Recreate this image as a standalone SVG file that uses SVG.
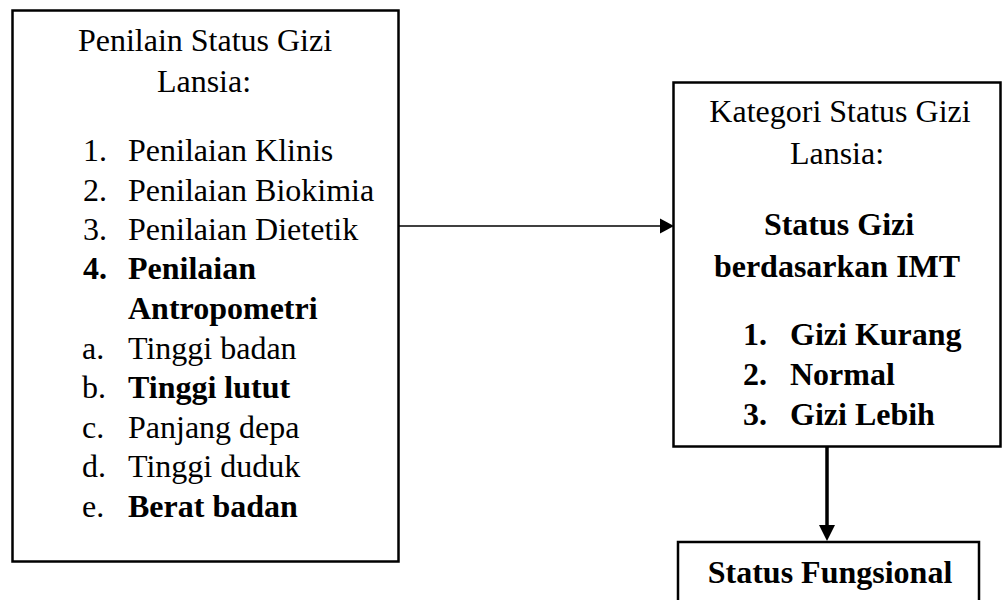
<svg xmlns="http://www.w3.org/2000/svg" width="1002" height="600" viewBox="0 0 1002 600">
<style>
.box{fill:#fff;stroke:#000;stroke-width:2.5}
text{font-family:"Liberation Serif","Times New Roman",serif;font-size:32px;fill:#000}
.c{text-anchor:middle}
.b{font-weight:bold}
</style>
<rect width="1002" height="600" fill="#fff"/>
<g id="penilaian">
<rect class="box" x="12.5" y="10.5" width="386" height="551"/>
<text class="c" x="205" y="51">Penilain Status Gizi</text>
<text class="c" x="204" y="92">Lansia:</text>
<text x="83" y="161">1.</text><text x="128" y="161">Penilaian Klinis</text>
<text x="83" y="200.5">2.</text><text x="128" y="200.5">Penilaian Biokimia</text>
<text x="83" y="240">3.</text><text x="128" y="240">Penilaian Dietetik</text>
<text class="b" x="83" y="279">4.</text><text class="b" x="128" y="279">Penilaian</text>
<text class="b" x="128" y="319">Antropometri</text>
<text x="82" y="358.5">a.</text><text x="128" y="358.5">Tinggi badan</text>
<text x="82" y="398">b.</text><text class="b" x="128" y="398">Tinggi lutut</text>
<text x="82" y="437.5">c.</text><text x="128" y="437.5">Panjang depa</text>
<text x="82" y="477">d.</text><text x="128" y="477">Tinggi duduk</text>
<text x="82" y="516.5">e.</text><text class="b" x="128" y="516.5">Berat badan</text>
</g>
<g id="kategori">
<rect class="box" x="673.5" y="82.5" width="327" height="364"/>
<text class="c" x="840" y="122">Kategori Status Gizi</text>
<text class="c" x="837" y="164">Lansia:</text>
<text class="c b" x="839" y="235">Status Gizi</text>
<text class="c b" x="837" y="277">berdasarkan IMT</text>
<text class="b" x="743" y="345">1.</text><text class="b" x="790" y="345">Gizi Kurang</text>
<text class="b" x="743" y="385">2.</text><text class="b" x="790" y="385">Normal</text>
<text class="b" x="743" y="425">3.</text><text class="b" x="790" y="425">Gizi Lebih</text>
</g>
<g id="fungsional">
<rect class="box" x="678" y="542" width="301" height="80"/>
<text class="c b" x="830" y="583">Status Fungsional</text>
</g>
<g id="connectors">
<line x1="399" y1="226" x2="662" y2="226" stroke="#000" stroke-width="1.3"/>
<polygon points="660,218.5 674,226 660,233.5" fill="#000"/>
<line x1="827" y1="447" x2="827" y2="527" stroke="#000" stroke-width="3.5"/>
<polygon points="819,525 835,525 827,541" fill="#000"/>
</g>
</svg>
